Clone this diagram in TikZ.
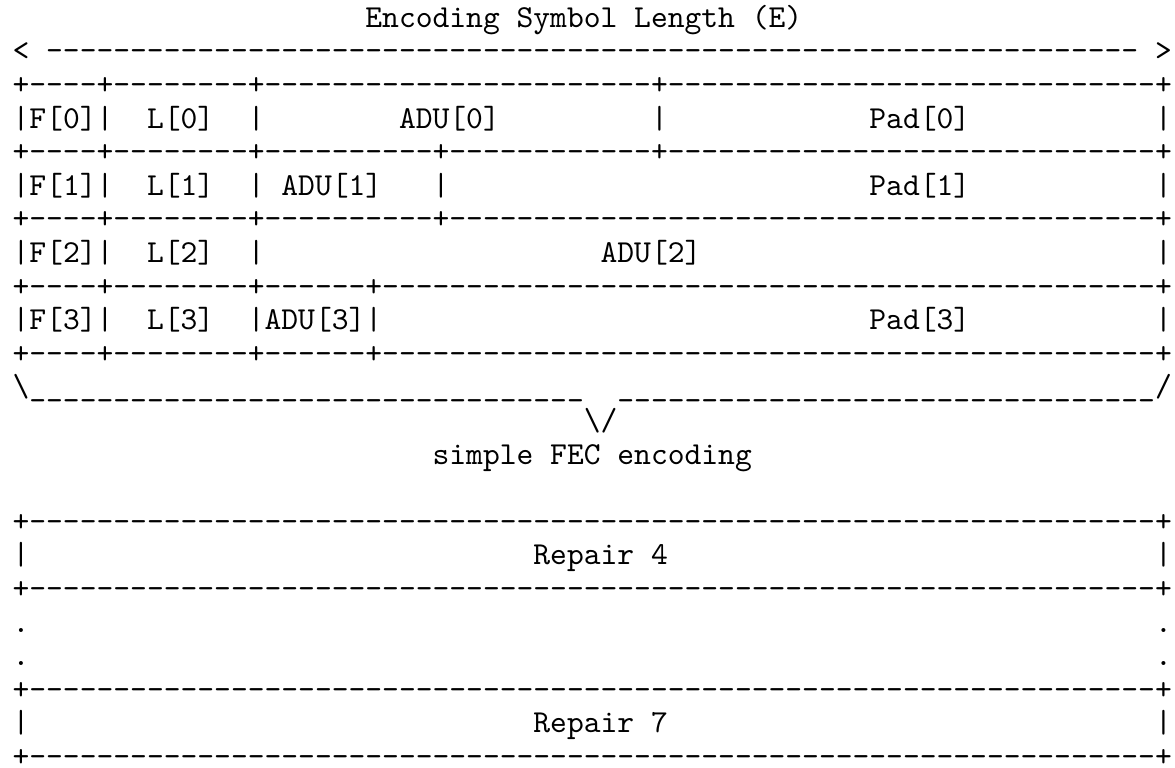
\documentclass[tikz,border=0pt]{standalone}
\usepackage{fontspec}
\setmonofont{lmmono10-regular.otf}
\newcommand\dashes[1]{\foreach\k in {1,...,#1}{-}}
\newcommand\unders[1]{\foreach\k in {1,...,#1}{\_}}
\tikzset{ascii/.style={font=\ttfamily\fontsize{16}{16.8}\selectfont, inner sep=0pt, outer sep=0pt, anchor=base west}}
% a row of +---+ : line, list of from/to columns
\newcommand\border[2]{%
  \foreach \a/\b [evaluate=\b as \len using int(\b-\a-1)] in {#2}
    {\node[ascii] (b#1-\a) at (\a,#1) {+\dashes{\len}};}
  \node[ascii] (b#1-68) at (68,#1) {+};}
% the | of a row : line, list of columns
\newcommand\walls[2]{\foreach \c in {#2} {\node[ascii] (w#1-\c) at (\c,#1) {|};}}
\begin{document}
\begin{tikzpicture}[x=8.4pt, y=-16.8pt]
    \useasboundingbox (-0.75,-0.81) rectangle (69.19,22.018);

    \node[ascii] (title) at (21,0) {Encoding Symbol Length (E)};
    \node[ascii] (lt) at (0,1) {<};
    \node[ascii] (len) at (2,1) {\dashes{65}};
    \node[ascii] (gt) at (68,1) {>};

    % source block
    \border{2}{0/5,5/14,14/38,38/68}
    \walls{3}{0,5,14,38,68}
    \node[ascii] (f0) at (1,3) {F[0]};
    \node[ascii] (l0) at (8,3) {L[0]};
    \node[ascii] (adu0) at (23,3) {ADU[0]};
    \node[ascii] (pad0) at (51,3) {Pad[0]};
    \border{4}{0/5,5/14,14/25,25/38,38/68}
    \walls{5}{0,5,14,25,68}
    \node[ascii] (f1) at (1,5) {F[1]};
    \node[ascii] (l1) at (8,5) {L[1]};
    \node[ascii] (adu1) at (16,5) {ADU[1]};
    \node[ascii] (pad1) at (51,5) {Pad[1]};
    \border{6}{0/5,5/14,14/25,25/68}
    \walls{7}{0,5,14,68}
    \node[ascii] (f2) at (1,7) {F[2]};
    \node[ascii] (l2) at (8,7) {L[2]};
    \node[ascii] (adu2) at (35,7) {ADU[2]};
    \border{8}{0/5,5/14,14/21,21/68}
    \walls{9}{0,5,14,21,68}
    \node[ascii] (f3) at (1,9) {F[3]};
    \node[ascii] (l3) at (8,9) {L[3]};
    \node[ascii] (adu3) at (15,9) {ADU[3]};
    \node[ascii] (pad3) at (51,9) {Pad[3]};
    \border{10}{0/5,5/14,14/21,21/68}

    % brace
    \node[ascii] (bl) at (0,11) {\textbackslash\unders{33}};
    \node[ascii] (br) at (36,11) {\unders{32}/};
    \node[ascii] (tip) at (34,12) {\textbackslash/};
    \node[ascii] (fec) at (25,13) {simple FEC encoding};

    % repair symbols
    \border{15}{0/68}
    \walls{16}{0,68}
    \node[ascii] (rep4) at (31,16) {Repair 4};
    \border{17}{0/68}
    \foreach \r in {18,19} {\node[ascii] (dl\r) at (0,\r) {.}; \node[ascii] (dr\r) at (68,\r) {.};}
    \border{20}{0/68}
    \walls{21}{0,68}
    \node[ascii] (rep7) at (31,21) {Repair 7};
    \border{22}{0/68}
\end{tikzpicture}
\end{document}
